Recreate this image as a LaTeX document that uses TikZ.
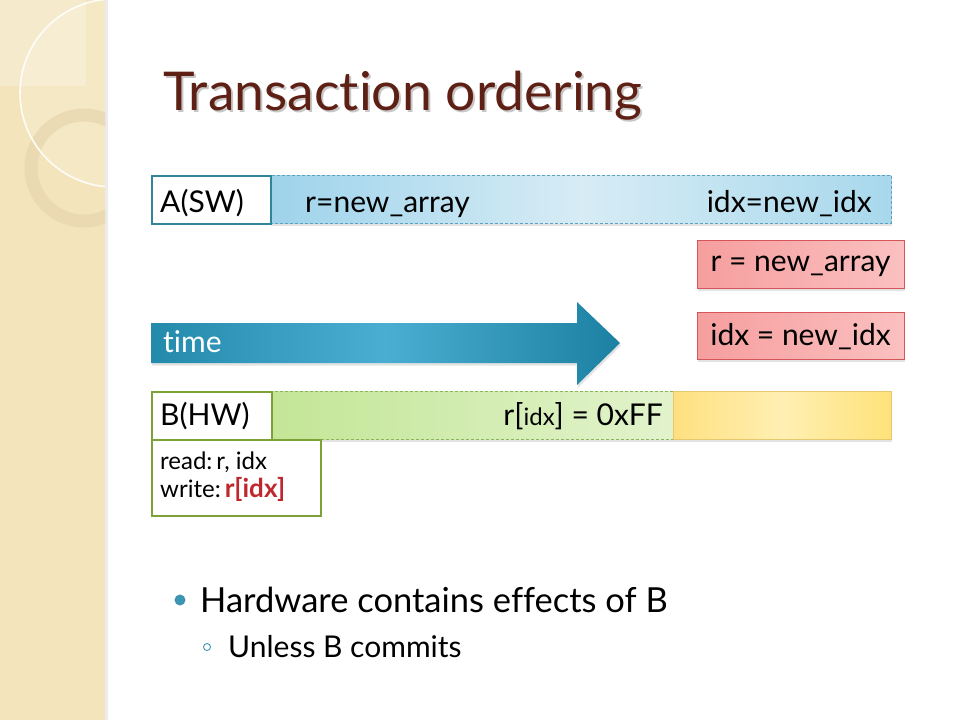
\documentclass[tikz,border=0pt]{standalone}
\usepackage{fontspec}
\setmainfont{Lato}[Ligatures={NoCommon,NoRequired,NoContextual}]
\usetikzlibrary{shadows,calc}
\definecolor{stripc}{RGB}{244,228,188}
\definecolor{ringc}{RGB}{228,210,168}
\definecolor{titlec}{RGB}{94,32,20}
\definecolor{aborder}{RGB}{49,133,155}
\definecolor{blueL}{RGB}{158,211,235}
\definecolor{blueM}{RGB}{215,236,245}
\definecolor{blueR}{RGB}{168,216,236}
\definecolor{blueD}{RGB}{95,160,190}
\definecolor{redL}{RGB}{246,158,158}
\definecolor{redR}{RGB}{251,192,192}
\definecolor{redD}{RGB}{215,85,90}
\definecolor{arrL}{RGB}{36,138,172}
\definecolor{arrM}{RGB}{74,174,210}
\definecolor{arrR}{RGB}{28,128,162}
\definecolor{gborder}{RGB}{125,160,55}
\definecolor{greenL}{RGB}{195,230,150}
\definecolor{greenR}{RGB}{226,243,204}
\definecolor{greenD}{RGB}{140,180,95}
\definecolor{yelL}{RGB}{255,224,128}
\definecolor{yelM}{RGB}{255,239,178}
\definecolor{yelR}{RGB}{255,226,122}
\definecolor{yelD}{RGB}{230,200,110}
\definecolor{redtxt}{RGB}{192,39,45}
\definecolor{dotc}{RGB}{60,150,178}
\tikzset{
  shad/.style={drop shadow={opacity=0.22,shadow xshift=1pt,shadow yshift=-2.5pt}},
  labbox/.style={draw,line width=2pt,fill=white,anchor=north west,inner sep=0pt},
  barbox/.style={anchor=north west,inner sep=0pt,shad},
  lab/.style={font=\fontsize{30}{34}\selectfont,inner sep=0pt},
  small/.style={font=\fontsize{24}{28}\selectfont,inner sep=0pt},
}
\begin{document}
\begin{tikzpicture}[x=1pt,y=-1pt]
\useasboundingbox (0,0) rectangle (960,720);
\fill[white] (0,0) rectangle (960,720);
% decorative strip
\fill[stripc] (0,0) rectangle (105,720);
\fill[white,opacity=0.25] (0,0) rectangle (86,86);
\begin{scope}
\clip (0,0) rectangle (105,720);
\fill[white,opacity=0.15] (114,93) circle (94);
\draw[ringc,line width=13pt,opacity=0.55] (84,168) circle (53);
\draw[white,line width=1.6pt,opacity=0.9] (114,93) circle (94);
\end{scope}
\fill[black,opacity=0.08] (105,0) rectangle (108,720);
% title
\node[anchor=base west,inner sep=0pt,text=black,opacity=0.22,font=\fontsize{53.5}{60}\selectfont] (titleshadow) at (165,112.5) {Transaction ordering};
\node[anchor=base west,inner sep=0pt,text=titlec,font=\fontsize{53.5}{60}\selectfont] (title) at (163,110) {Transaction ordering};
% A row
\node[barbox,minimum width=621pt,minimum height=48pt,left color=blueL,right color=blueR,middle color=blueM,draw=blueD,densely dashed,line width=0.6pt] (abar) at (270,175) {};
\node[labbox,draw=aborder,minimum width=119pt,minimum height=48pt] (abox) at (151,175) {};
\node[lab,anchor=base west] (alab) at (160,212) {A(SW)};
\node[lab,anchor=base west] (a1) at (305,212) {r=new\_array};
\node[lab,anchor=base east] (a2) at (872,212) {idx=new\_idx};
% red boxes
\node[barbox,minimum width=207pt,minimum height=48pt,left color=redL,right color=redR,draw=redD,line width=0.8pt] (r1) at (697,240) {};
\node[lab,anchor=base] (r1t) at (800.5,271) {r = new\_array};
\node[barbox,minimum width=207pt,minimum height=47pt,left color=redL,right color=redR,draw=redD,line width=0.8pt] (r2) at (697,312) {};
\node[lab,anchor=base] (r2t) at (800.5,345) {idx = new\_idx};
% time arrow
\shade[left color=arrL,right color=arrR,middle color=arrM,shad]
  (151,323) -- (577,323) -- (577,302) -- (620,343) -- (577,385) -- (577,363) -- (151,363) -- cycle;
\node[lab,anchor=base west,text=white] (time) at (163,352) {time};
% B row
\node[barbox,minimum width=402pt,minimum height=48pt,left color=greenL,right color=greenR,draw=greenD,densely dashed,line width=0.6pt] (gbar) at (271,391) {};
\node[barbox,minimum width=218pt,minimum height=48pt,left color=yelL,right color=yelR,middle color=yelM,draw=yelD,line width=0.6pt] (ybar) at (673,391) {};
\node[labbox,draw=gborder,minimum width=120pt,minimum height=48pt] (bbox) at (151,391) {};
\node[lab,anchor=base west] (blab) at (160,425) {B(HW)};
\node[lab,anchor=base east] (g1) at (663,425) {r[{\fontsize{24}{28}\selectfont idx}] = 0xFF};
\node[labbox,draw=gborder,minimum width=169pt,minimum height=76pt] (rw) at (151,439) {};
\node[small,anchor=base west] (rd) at (160,469) {read:\,r, idx};
\node[small,anchor=base west] (wr) at (160,497) {write:\,\textcolor{redtxt}{\fontsize{26}{30}\selectfont\textbf{r[idx]}}};
% bullets
\fill[dotc] (180,600) circle (5.5);
\node[anchor=base west,inner sep=0pt,font=\fontsize{34.5}{40}\selectfont] (b1) at (200,612) {Hardware contains effects of B};
\draw[dotc,line width=0.9pt] (207,647) circle (3.5);
\node[anchor=base west,inner sep=0pt,font=\fontsize{30}{34}\selectfont] (b2) at (228,657) {Unless B commits};
\end{tikzpicture}
\end{document}
